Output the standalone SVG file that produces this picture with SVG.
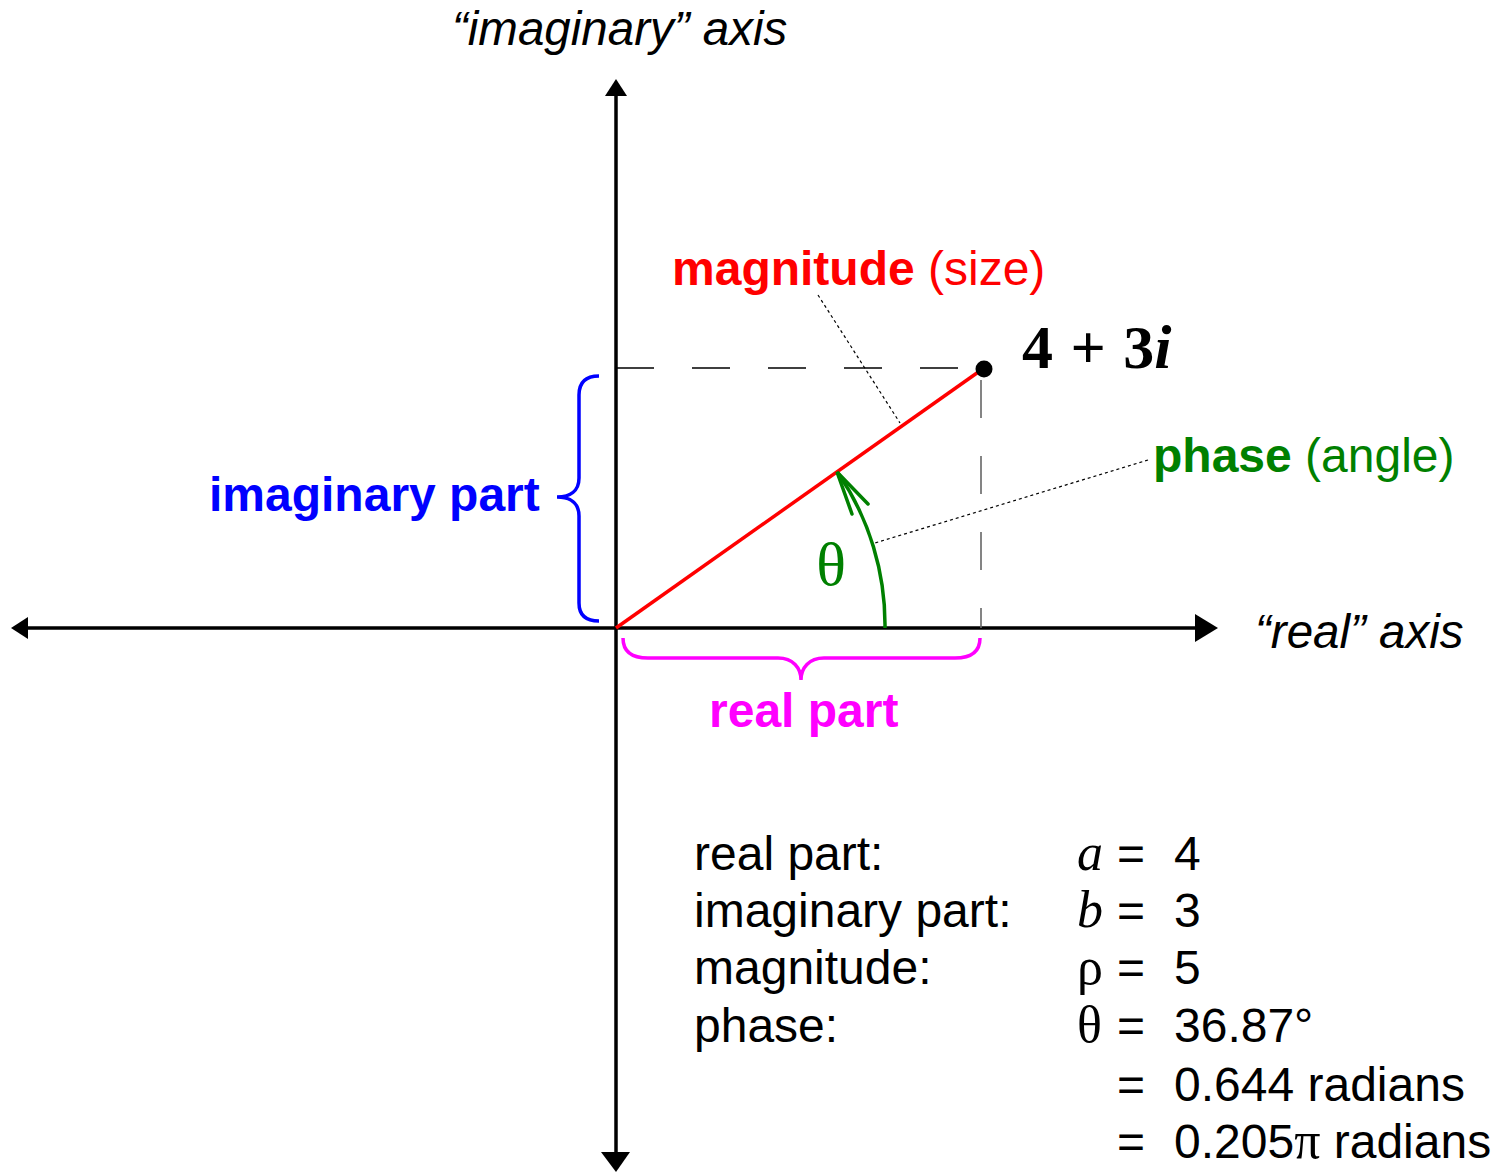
<svg xmlns="http://www.w3.org/2000/svg" width="1505" height="1173" viewBox="0 0 1505 1173">
<style>
.sans{font-family:"Liberation Sans",Arial,sans-serif}
.serif{font-family:"Liberation Serif","Times New Roman",serif}
.axis{stroke:#000;stroke-width:3.5;fill:none}
.lbl{font-size:48px;font-weight:bold}
.tbl{font-size:48px;fill:#000}
.dot{stroke:#000;stroke-width:1.2;stroke-dasharray:3 3;fill:none}
</style>
<rect width="1505" height="1173" fill="#fff"/>
<g id="connectors">
  <line class="axis" x1="616" y1="92" x2="616" y2="1156"/>
  <polygon points="616,79 605,96 627,96" fill="#000"/>
  <polygon points="616,1172 601,1152 630,1152" fill="#000"/>
  <line class="axis" x1="25" y1="628" x2="1198" y2="628"/>
  <polygon points="11,628 28,617 28,639" fill="#000"/>
  <polygon points="1218,628 1195,614 1195,642" fill="#000"/>
  <line x1="616" y1="368" x2="984" y2="368" stroke="#000" stroke-width="1.5" stroke-dasharray="38 38"/>
  <line x1="981" y1="380" x2="981" y2="628" stroke="#666" stroke-width="1.6" stroke-dasharray="38 38"/>
  <line x1="616" y1="628" x2="984" y2="368" stroke="#ff0000" stroke-width="3.5"/>
  <path d="M885,628 A269,269 0 0 0 838,473" stroke="#008000" stroke-width="3.5" fill="none"/>
  <polyline points="852,514 837,472 868,504" stroke="#008000" stroke-width="3.5" fill="none" stroke-linecap="round"/>
  <line class="dot" x1="818" y1="295" x2="900" y2="423"/>
  <line class="dot" x1="1148" y1="460" x2="875" y2="543"/>
</g>
<g id="point">
  <circle cx="984" cy="369" r="8.5" fill="#000"/>
  <text class="serif" x="1022" y="368" font-size="62" font-weight="bold" word-spacing="2">4 + 3<tspan font-style="italic">i</tspan></text>
</g>
<g id="imag-axis-label">
  <text class="sans" x="452" y="45" font-size="47.5" font-style="italic">“imaginary” axis</text>
</g>
<g id="real-axis-label">
  <text class="sans" x="1255" y="648" font-size="47.5" font-style="italic">“real” axis</text>
</g>
<g id="magnitude">
  <text class="sans" x="672" y="285" font-size="48" fill="#ff0000"><tspan font-weight="bold">magnitude</tspan> (size)</text>
</g>
<g id="phase">
  <text class="sans" x="1153" y="472" font-size="48" fill="#008000"><tspan font-weight="bold">phase</tspan> (angle)</text>
  <text class="serif" x="831" y="585" font-size="62" fill="#008000" text-anchor="middle">θ</text>
</g>
<g id="imaginary-part">
  <path d="M599,376 C586,376 579,382 579,395 L579,478 C579,491 570,497 557,497 C570,497 579,503 579,516 L579,603 C579,615 586,621 599,621" stroke="#0000ff" stroke-width="3.5" fill="none"/>
  <text class="sans lbl" x="209" y="511" fill="#0000ff">imaginary part</text>
</g>
<g id="real-part">
  <path d="M623,638 C623,652 632,658 648,658 L778,658 C793,658 801,668 801,680 C801,668 809,658 824,658 L955,658 C971,658 980,652 980,638" stroke="#ff00ff" stroke-width="3.5" fill="none"/>
  <text class="sans lbl" x="709" y="727" fill="#ff00ff">real part</text>
</g>
<g id="table">
  <text class="sans tbl" x="694" y="870">real part:</text>
  <text class="sans tbl" x="694" y="927">imaginary part:</text>
  <text class="sans tbl" x="694" y="984">magnitude:</text>
  <text class="sans tbl" x="694" y="1042">phase:</text>
  <text class="serif" x="1077" y="870" font-size="52" font-style="italic">a</text>
  <text class="serif" x="1077" y="927" font-size="52" font-style="italic">b</text>
  <text class="serif" x="1077" y="984" font-size="52">ρ</text>
  <text class="serif" x="1077" y="1042" font-size="52">θ</text>
  <text class="sans tbl" x="1117" y="870">=</text>
  <text class="sans tbl" x="1117" y="927">=</text>
  <text class="sans tbl" x="1117" y="984">=</text>
  <text class="sans tbl" x="1117" y="1042">=</text>
  <text class="sans tbl" x="1117" y="1101">=</text>
  <text class="sans tbl" x="1117" y="1158">=</text>
  <text class="sans tbl" x="1174" y="870">4</text>
  <text class="sans tbl" x="1174" y="927">3</text>
  <text class="sans tbl" x="1174" y="984">5</text>
  <text class="sans tbl" x="1174" y="1042">36.87°</text>
  <text class="sans tbl" x="1174" y="1101">0.644 radians</text>
  <text class="sans tbl" x="1174" y="1158">0.205<tspan class="serif" font-size="52">π</tspan> radians</text>
</g>
</svg>
